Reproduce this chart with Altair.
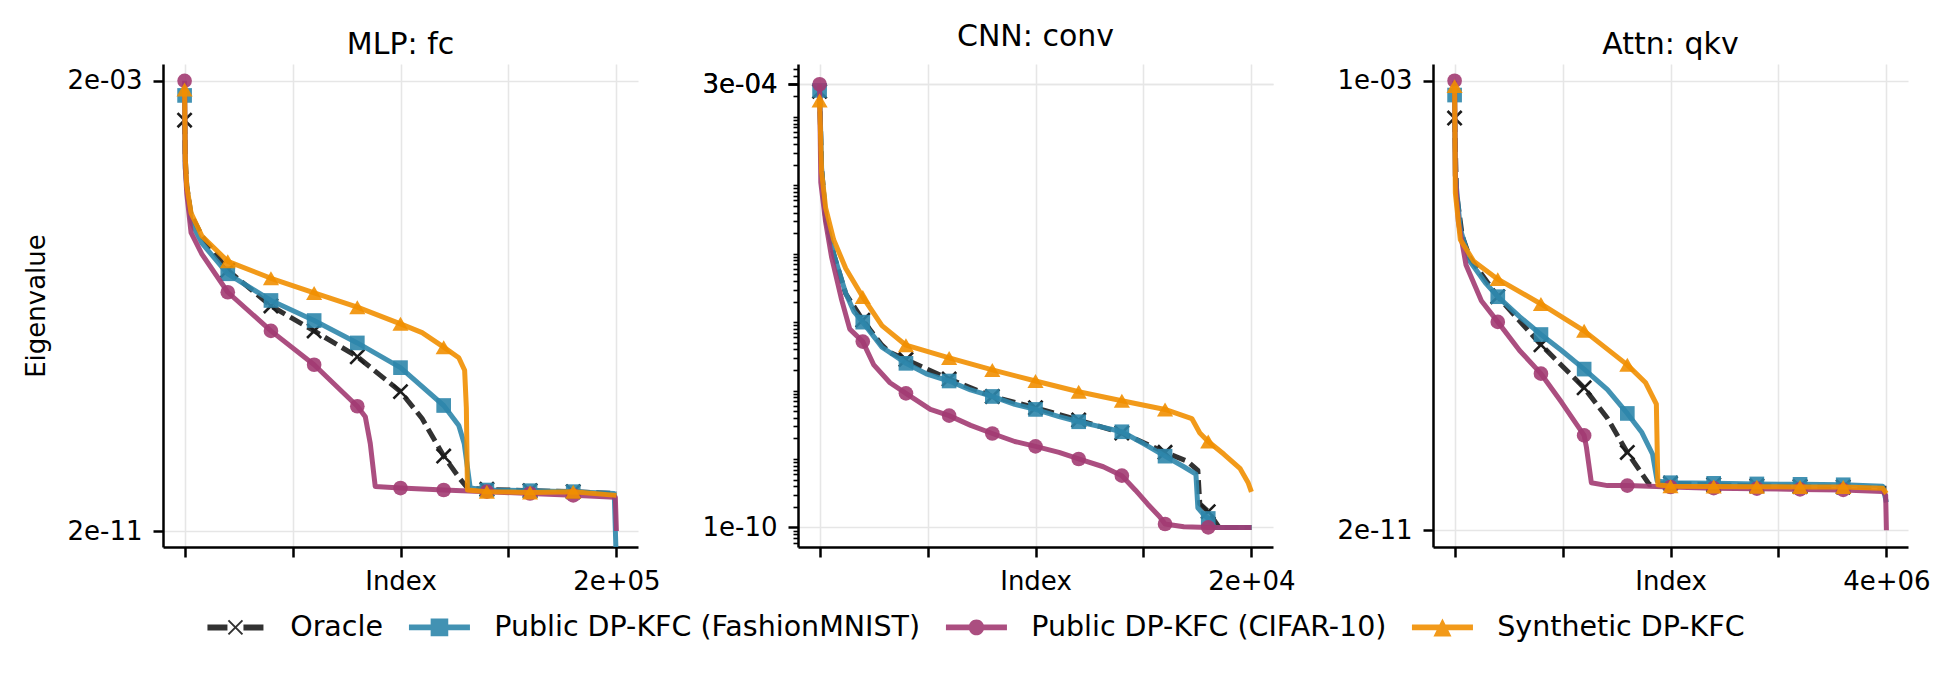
import altair as alt
import pandas as pd

FONT = "DejaVu Sans"

SERIES = ["Oracle", "Public DP-KFC (FashionMNIST)", "Public DP-KFC (CIFAR-10)", "Synthetic DP-KFC"]
COLORS = ["#1c1c1c", "#2E86AB", "#A23B72", "#F18F01"]

# ---------------- MLP: fc ----------------
MLP_ORACLE_X = [0, 300, 1000, 3000, 8000, 20000, 40000, 60000, 80000, 100000, 110000, 120000, 127000, 131000, 140000, 160000, 180000, 200000]
MLP_ORACLE_Y = [4.0e-4, 8.6e-5, 2.7e-5, 8.3e-6, 3.5e-6, 8.6e-7, 2.0e-7, 7.2e-8, 2.5e-8, 6.0e-9, 2.0e-9, 4.3e-10, 1.8e-10, 1.16e-10, 1.1e-10, 1.04e-10, 1.0e-10, 9.3e-11]
MLP_BLUE_X = [0, 300, 1000, 3000, 8000, 20000, 40000, 60000, 80000, 100000, 120000, 127000, 129500, 132300, 140000, 160000, 180000, 199000, 200000]
MLP_BLUE_Y = [1.1e-3, 5.6e-5, 2.7e-5, 6.2e-6, 2.6e-6, 7.45e-7, 2.5e-7, 1.1e-7, 4.4e-8, 1.6e-8, 3.4e-9, 1.5e-9, 7.2e-10, 1.16e-10, 1.07e-10, 1.04e-10, 1.0e-10, 9.3e-11, 5e-12]
MLP_MAG_X = [0, 300, 1000, 3000, 8000, 20000, 40000, 60000, 80000, 83700, 86000, 88300, 100000, 120000, 140000, 160000, 180000, 199500, 200000]
MLP_MAG_Y = [2.0e-3, 6.4e-5, 2.0e-5, 4.0e-6, 1.67e-6, 3.5e-7, 7.2e-8, 1.8e-8, 3.3e-9, 2.15e-9, 7.2e-10, 1.24e-10, 1.16e-10, 1.07e-10, 1.0e-10, 9.3e-11, 8.6e-11, 8.0e-11, 2.0e-11]
MLP_ORANGE_X = [0, 300, 1000, 3000, 8000, 20000, 40000, 60000, 80000, 100000, 110000, 120000, 127000, 129700, 130500, 131000, 140000, 160000, 180000, 200000]
MLP_ORANGE_Y = [1.4e-3, 8.6e-5, 2.7e-5, 8.9e-6, 3.5e-6, 1.24e-6, 6.2e-7, 3.4e-7, 1.9e-7, 9.6e-8, 6.7e-8, 3.7e-8, 2.4e-8, 1.44e-8, 3.1e-9, 1.07e-10, 1.0e-10, 9.7e-11, 1.0e-10, 8.6e-11]
MLP_MARKS = [0, 20000, 40000, 60000, 80000, 100000, 120000, 140000, 160000, 180000]
MLP_XTICKS = [0, 50000, 100000, 150000, 200000]
MLP_XLABELS = ["", "", "", "", "2e+05"]
MLP_YTICKS = [2e-3, 2e-11]
MLP_YLABELS = ["2e-03", "2e-11"]

# ---------------- CNN: conv ----------------
CNN_ORACLE_X = [0, 93, 280, 652, 1212, 2000, 2890, 3260, 4000, 6000, 8000, 10000, 12000, 14000, 16000, 17050, 17520, 17610, 18000, 18500, 20000]
CNN_ORACLE_Y = [2.36e-4, 1.8e-5, 3.3e-6, 9.9e-7, 2.6e-7, 1.07e-7, 4.6e-8, 3.6e-8, 2.84e-8, 1.47e-8, 8.2e-9, 5.6e-9, 3.7e-9, 2.4e-9, 1.25e-9, 9.2e-10, 6.8e-10, 2.2e-10, 1.7e-10, 1.0e-10, 1.0e-10]
CNN_BLUE_X = [0, 93, 280, 652, 1212, 1584, 2000, 2889, 3635, 4000, 4940, 6000, 6990, 8000, 9040, 10000, 11090, 12000, 13140, 14000, 15000, 16000, 16870, 17430, 17520, 17800, 18000, 18300, 20000]
CNN_BLUE_Y = [2.44e-4, 1.8e-5, 3.3e-6, 9.9e-7, 2.64e-7, 1.44e-7, 1.0e-7, 4.3e-8, 3.0e-8, 2.5e-8, 1.76e-8, 1.38e-8, 1.02e-8, 8.2e-9, 6.3e-9, 5.3e-9, 4.15e-9, 3.5e-9, 2.9e-9, 2.5e-9, 1.68e-9, 1.1e-9, 7.7e-10, 6.0e-10, 1.93e-10, 1.52e-10, 1.35e-10, 1.0e-10, 1.0e-10]
CNN_MAG_X = [0, 56, 280, 559, 1025, 1398, 2000, 2500, 3260, 4000, 5130, 6000, 7000, 8000, 9040, 10000, 11090, 12000, 13140, 14000, 14630, 15190, 15750, 16000, 16870, 18000, 20000]
CNN_MAG_Y = [3.0e-4, 1.1e-5, 2.9e-6, 8.8e-7, 2.1e-7, 7.9e-8, 5.2e-8, 2.4e-8, 1.3e-8, 9.1e-9, 5.3e-9, 4.3e-9, 3.1e-9, 2.36e-9, 1.8e-9, 1.53e-9, 1.25e-9, 1.0e-9, 7.7e-10, 5.7e-10, 3.5e-10, 2.2e-10, 1.43e-10, 1.12e-10, 1.02e-10, 1.0e-10, 1.0e-10]
CNN_ORANGE_X = [0, 93, 280, 652, 1212, 2000, 2889, 4000, 6000, 8000, 10000, 12000, 14000, 16000, 17240, 17610, 18000, 18730, 19480, 19850, 20000]
CNN_ORANGE_Y = [1.74e-4, 1.57e-5, 4.7e-6, 1.6e-6, 6.1e-7, 2.33e-7, 8.9e-8, 4.6e-8, 3.0e-8, 2.0e-8, 1.38e-8, 9.6e-9, 7.1e-9, 5.3e-9, 3.9e-9, 2.4e-9, 1.8e-9, 1.17e-9, 7.2e-10, 4.5e-10, 3.3e-10]
CNN_MARKS = [0, 2000, 4000, 6000, 8000, 10000, 12000, 14000, 16000, 18000]
CNN_XTICKS = [0, 5000, 10000, 15000, 20000]
CNN_XLABELS = ["", "", "", "", "2e+04"]
CNN_YTICKS = [3e-4, 1e-10]
CNN_YLABELS = ["3e-04", "1e-10"]
CNN_MINOR_MANTISSAS = [1, 2, 3, 4, 5, 6, 7, 8, 9]
CNN_MINOR_EXPONENTS = [-11, -10, -9, -8, -7, -6, -5, -4]

# ---------------- Attn: qkv ----------------
ATT_ORACLE_X = [0, 17700, 70800, 141600, 400000, 800000, 1200000, 1416000, 1600000, 1735000, 1805000, 2000000, 2400000, 2800000, 3200000, 3600000, 4000000]
ATT_ORACLE_Y = [2.3e-4, 1.2e-5, 2.2e-6, 9.3e-7, 2.0e-7, 3.0e-8, 5.5e-9, 1.65e-9, 4.3e-10, 1.85e-10, 1.2e-10, 1.27e-10, 1.2e-10, 1.15e-10, 1.12e-10, 1.1e-10, 1.05e-10]
ATT_BLUE_X = [0, 7000, 53100, 141600, 283000, 400000, 602000, 800000, 991000, 1200000, 1416000, 1600000, 1735000, 1834000, 1876000, 2000000, 2400000, 2800000, 3200000, 3600000, 3965000, 4000000]
ATT_BLUE_Y = [5.7e-4, 2.4e-5, 2.9e-6, 8.1e-7, 3.5e-7, 2.0e-7, 9.1e-8, 4.5e-8, 2.4e-8, 1.15e-8, 5.1e-9, 2.0e-9, 9.4e-10, 4.0e-10, 1.4e-10, 1.3e-10, 1.27e-10, 1.24e-10, 1.22e-10, 1.2e-10, 1.13e-10, 6.0e-11]
ATT_MAG_X = [0, 7000, 35400, 106000, 248000, 400000, 602000, 800000, 991000, 1200000, 1221000, 1267000, 1416000, 1600000, 2000000, 2400000, 2800000, 3200000, 3600000, 3965000, 3993000, 4000000]
ATT_MAG_Y = [1.0e-3, 2.4e-5, 3.8e-6, 7.0e-7, 1.7e-7, 7.4e-8, 2.4e-8, 9.6e-9, 3.1e-9, 8.4e-10, 5.3e-10, 1.3e-10, 1.16e-10, 1.16e-10, 1.1e-10, 1.05e-10, 1.03e-10, 1.0e-10, 9.8e-11, 9.2e-11, 8.0e-11, 2.0e-11]
ATT_ORANGE_X = [0, 7000, 53100, 177000, 400000, 800000, 1200000, 1600000, 1770000, 1869000, 1883000, 2000000, 2400000, 2800000, 3200000, 3600000, 3965000, 4000000]
ATT_ORANGE_Y = [8.1e-4, 1.2e-5, 1.9e-6, 8.1e-7, 4.0e-7, 1.5e-7, 5.2e-8, 1.36e-8, 6.7e-9, 2.9e-9, 1.2e-10, 1.13e-10, 1.12e-10, 1.11e-10, 1.1e-10, 1.1e-10, 1.05e-10, 8.5e-11]
ATT_MARKS = [0, 400000, 800000, 1200000, 1600000, 2000000, 2400000, 2800000, 3200000, 3600000]
ATT_XTICKS = [0, 1000000, 2000000, 3000000, 4000000]
ATT_XLABELS = ["", "", "", "", "4e+06"]
ATT_YTICKS = [1e-3, 2e-11]
ATT_YLABELS = ["1e-03", "2e-11"]

# ---------------- styling ----------------
PANEL_W = 475
PANEL_H = 483
GAP = 160

XPATH = "M-1,-1L1,1M-1,1L1,-1"
MARKER_SHAPES = [XPATH, "square", "circle", "triangle-up"]
MARKER_SIZES = [200, 215, 215, 260]


def _xbars(a, w):
    return (f"M{-a + w},{-a - w}L{a + w},{a - w}L{a - w},{a + w}L{-a - w},{-a + w}Z"
            f"M{a + w},{-a + w}L{-a + w},{a + w}L{-a - w},{a - w}L{a - w},{-a - w}Z")


LINE_SOLID = "M-3.05,-0.28H3.05V0.28H-3.05Z"
LEGEND_SHAPES = [
    "M-2.8,-0.3H-0.8V0.3H-2.8Z" + "M0.8,-0.3H2.8V0.3H0.8Z" + _xbars(0.7, 0.07),
    LINE_SOLID + "M-0.88,-0.88H0.88V0.88H-0.88Z",
    LINE_SOLID + "M-0.78,0A0.78,0.78 0 1,1 0.78,0A0.78,0.78 0 1,1 -0.78,0Z",
    LINE_SOLID + "M0,-0.9L0.9,0.9L-0.9,0.9Z",
]


def label_expr(values, labels):
    expr = "''"
    for v, lab in zip(values, labels):
        if lab:
            expr = f"abs(datum.value / {v!r} - 1) < 1e-6 ? '{lab}' : ({expr})"
    return expr


def panel_frame(xs_list, ys_list, marks):
    rows = []
    for name, xs, ys in zip(SERIES, xs_list, ys_list):
        for x, y in zip(xs, ys):
            rows.append({"series": name, "x": x, "y": y, "mark": x in marks})
    return pd.DataFrame(rows)


LEG = alt.Legend(
    title=None, orient="none", legendX=37.7, legendY=549, direction="horizontal",
    columns=4, columnPadding=21, symbolSize=400, symbolStrokeWidth=0,
    symbolOffset=20.5, labelOffset=40.5, labelFontSize=28.5, labelFont=FONT,
    labelColor="black", labelLimit=1000, padding=0, symbolOpacity=0.9, offset=0,
)


def make_panel(df, xdom, ydom, xt, xl, yt, yl, ytitle=None, minor=None):
    x_axis = alt.Axis(
        values=xt, labelExpr=label_expr(xt, xl), title="Index",
        titleY=21, titleBaseline="top", grid=True, labelPadding=11,
    )
    yvals = list(yt) + (list(minor) if minor else [])
    major_test = " || ".join(f"abs(datum.value / {v!r} - 1) < 1e-6" for v in yt)
    y_kwargs = dict(values=yvals, labelExpr=label_expr(yt, yl), grid=True, labelPadding=11)
    if minor:
        y_kwargs["tickSize"] = {"condition": {"test": major_test, "value": 10}, "value": 5}
        y_kwargs["tickWidth"] = {"condition": {"test": major_test, "value": 2.5}, "value": 1.6}
        y_kwargs["gridOpacity"] = {"condition": {"test": major_test, "value": 1}, "value": 0}
    if ytitle:
        y_kwargs.update(title=ytitle, titleAngle=270, titleX=-119, titleY=PANEL_H / 2,
                        titleBaseline="alphabetic", titleAlign="center")
    else:
        y_kwargs["title"] = None
    y_axis = alt.Axis(**y_kwargs)

    base = alt.Chart(df).encode(
        x=alt.X("x:Q", scale=alt.Scale(domain=xdom, nice=False, zero=False), axis=x_axis),
        y=alt.Y("y:Q", scale=alt.Scale(type="log", domain=ydom, nice=False), axis=y_axis),
    )
    layers = []
    for i, name in enumerate(SERIES):
        line_kw = dict(color=COLORS[i], strokeWidth=5, opacity=0.9, clip=True,
                       strokeJoin="round", strokeCap="butt")
        if i == 0:
            line_kw["strokeDash"] = [14, 6]
        layers.append(base.transform_filter(f"datum.series === '{name}'").mark_line(**line_kw))
        if i == 0:
            pt = dict(shape=XPATH, filled=False, size=MARKER_SIZES[i], strokeWidth=2.6,
                      color=COLORS[i], opacity=1, clip=True)
        else:
            pt = dict(shape=MARKER_SHAPES[i], filled=True, size=MARKER_SIZES[i],
                      color=COLORS[i], opacity=0.9, clip=True)
        layers.append(base.transform_filter(f"datum.series === '{name}' && datum.mark").mark_point(**pt))
    return layers, base


TITLE_OFFSET = -20.4


def titled(layers, title):
    return alt.layer(*layers).properties(
        width=PANEL_W, height=PANEL_H,
        title=alt.TitleParams(text=title, fontSize=30, font=FONT, fontWeight="normal",
                              anchor="middle", frame="group", baseline="alphabetic",
                              offset=TITLE_OFFSET, color="black"),
    )


def spacer(width):
    return alt.Chart(pd.DataFrame({"s": [0]})).mark_point(opacity=0).properties(width=width, height=PANEL_H)


df1 = panel_frame([MLP_ORACLE_X, MLP_BLUE_X, MLP_MAG_X, MLP_ORANGE_X],
                  [MLP_ORACLE_Y, MLP_BLUE_Y, MLP_MAG_Y, MLP_ORANGE_Y], MLP_MARKS)
df2 = panel_frame([CNN_ORACLE_X, CNN_BLUE_X, CNN_MAG_X, CNN_ORANGE_X],
                  [CNN_ORACLE_Y, CNN_BLUE_Y, CNN_MAG_Y, CNN_ORANGE_Y], CNN_MARKS)
df3 = panel_frame([ATT_ORACLE_X, ATT_BLUE_X, ATT_MAG_X, ATT_ORANGE_X],
                  [ATT_ORACLE_Y, ATT_BLUE_Y, ATT_MAG_Y, ATT_ORANGE_Y], ATT_MARKS)

cnn_minor = [m * 10.0 ** e for e in CNN_MINOR_EXPONENTS for m in CNN_MINOR_MANTISSAS
             if 5.2e-11 < m * 10.0 ** e < 5.9e-4]

l1, b1 = make_panel(df1, [-10000, 210000], [1.04e-11, 3.98e-3],
                    MLP_XTICKS, MLP_XLABELS, MLP_YTICKS, MLP_YLABELS, ytitle="Eigenvalue")
legend_layer = b1.transform_filter("false").mark_point(filled=True, strokeWidth=0).encode(
    color=alt.Color("series:N", scale=alt.Scale(domain=SERIES, range=COLORS), legend=LEG),
    shape=alt.Shape("series:N", scale=alt.Scale(domain=SERIES, range=LEGEND_SHAPES), legend=LEG),
)
p1 = titled(l1 + [legend_layer], "MLP: fc")

l2, _ = make_panel(df2, [-1000, 21000], [5.17e-11, 5.93e-4],
                   CNN_XTICKS, CNN_XLABELS, CNN_YTICKS, CNN_YLABELS, minor=cnn_minor)
p2 = titled(l2, "CNN: conv")

l3, _ = make_panel(df3, [-200000, 4200000], [1.03e-11, 1.94e-3],
                   ATT_XTICKS, ATT_XLABELS, ATT_YTICKS, ATT_YLABELS)
p3 = titled(l3, "Attn: qkv")

chart = alt.hconcat(p1, spacer(GAP), p2, spacer(GAP), p3, spacing=0, bounds="flush").properties(
    padding={"left": 23, "top": 22, "right": 10, "bottom": 10},
).configure_view(stroke=None).configure_axis(
    domainColor="black", domainWidth=2.5, tickColor="black", tickWidth=2.5, tickSize=10,
    labelFont=FONT, labelFontSize=26, labelColor="black", labelPadding=10,
    titleFont=FONT, titleFontSize=26, titleColor="black", titleFontWeight="normal",
    gridColor="#e6e6e6", gridWidth=1.6, labelFlush=False, labelOverlap=False,
)

chart.save("out.html", embed_options={"renderer": "svg", "actions": False})
